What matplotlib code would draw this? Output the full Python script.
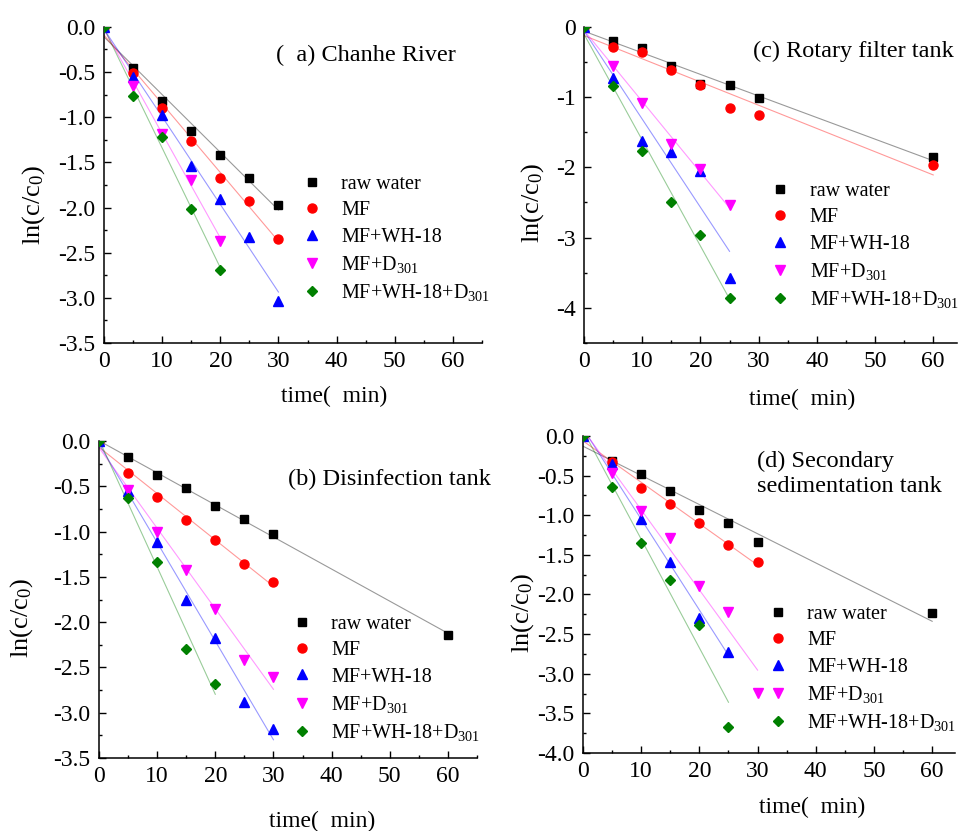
import numpy as np
import matplotlib
matplotlib.use("Agg")
import matplotlib.pyplot as plt
from matplotlib.ticker import MultipleLocator

plt.rcParams['font.family'] = ['Liberation Serif', 'Noto Sans CJK SC']
plt.rcParams['mathtext.fontset'] = 'custom'
plt.rcParams['mathtext.rm'] = 'Liberation Serif'
plt.rcParams['mathtext.it'] = 'Liberation Serif:italic'
plt.rcParams['axes.unicode_minus'] = False

# sampling times (min)
t20 = [0, 5, 10, 15, 20]
t25 = [0, 5, 10, 15, 20, 25]
t30 = [0, 5, 10, 15, 20, 25, 30]
t60 = [0, 5, 10, 15, 20, 25, 30, 60]

# (a) Chanhe River
a_raw = [0, -0.45, -0.82, -1.15, -1.42, -1.67, -1.97]
a_mf = [0, -0.51, -0.90, -1.26, -1.67, -1.93, -2.35]
a_wh = [0, -0.56, -0.98, -1.54, -1.91, -2.33, -3.04]
a_d301 = [0, -0.65, -1.19, -1.69, -2.37]
a_both = [0, -0.77, -1.22, -2.02, -2.69]

# (b) Disinfection tank
b_raw = [0, -0.18, -0.37, -0.52, -0.72, -0.86, -1.03, -2.14]
b_mf = [0, -0.35, -0.62, -0.87, -1.09, -1.36, -1.56]
b_wh = [0, -0.55, -1.12, -1.75, -2.17, -2.88, -3.18]
b_d301 = [0, -0.54, -1.00, -1.42, -1.86, -2.42, -2.61]
b_both = [0, -0.63, -1.34, -2.30, -2.68]

# (c) Rotary filter tank
c_raw = [0, -0.20, -0.30, -0.56, -0.81, -0.83, -1.01, -1.85]
c_mf = [0, -0.28, -0.36, -0.61, -0.83, -1.15, -1.25, -1.96]
c_wh = [0, -0.73, -1.63, -1.78, -2.05, -3.57]
c_d301 = [0, -0.56, -1.08, -1.67, -2.03, -2.54]
c_both = [0, -0.84, -1.77, -2.50, -2.96, -3.86]

# (d) Secondary sedimentation tank
d_raw = [0, -0.32, -0.48, -0.69, -0.94, -1.10, -1.34, -2.24]
d_mf = [0, -0.33, -0.66, -0.86, -1.10, -1.38, -1.59]
d_wh = [0, -0.35, -1.05, -1.59, -2.30, -2.73]
d_d301 = [0, -0.47, -0.95, -1.29, -1.89, -2.22, -3.24]
d_both = [0, -0.65, -1.35, -1.82, -2.38, -3.67]

labels = ['raw water', 'MF', 'MF+WH-18', r'MF+D$_{\mathregular{301}}$',
          r'MF+WH-18+D$_{\mathregular{301}}$']
markers = ['s', 'o', '^', 'v', 'D']
colors = ['black', 'red', 'blue', 'magenta', 'green']
sizes = [6, 6.5, 7, 7, 5.5]


def panel(ax, series, title, xlim, ylim, ystep, yfmt, title_xy, leg_xy, xl_xy, yl_xy):
    for (t, y), lab, m, c, s in zip(series, labels, markers, colors, sizes):
        k, b = np.polyfit(t, y, 1)
        xx = np.array([0, t[-1]])
        ax.plot(xx, k * xx + b, color=c, alpha=0.4, lw=0.8)
        ax.plot(t, y, m, color=c, ms=s, label=lab, zorder=3)
    ax.set_xlim(*xlim)
    ax.set_ylim(*ylim)
    ax.xaxis.set_major_locator(MultipleLocator(10))
    ax.xaxis.set_minor_locator(MultipleLocator(5))
    ax.yaxis.set_major_locator(MultipleLocator(ystep))
    ax.yaxis.set_minor_locator(MultipleLocator(ystep / 2))
    ax.yaxis.set_major_formatter(yfmt)
    ax.spines['top'].set_visible(False)
    ax.spines['right'].set_visible(False)
    for sp in ['left', 'bottom']:
        ax.spines[sp].set_linewidth(1.1)
    ax.tick_params(which='major', direction='in', length=5, width=1.0,
                   labelsize=17, pad=6)
    ax.tick_params(which='minor', direction='in', length=2.5, width=1.0)
    ax.text(title_xy[0], title_xy[1], title, transform=ax.transAxes,
            fontsize=17.5, ha='left', va='center', linespacing=1.25)
    ax.legend(loc='upper left', bbox_to_anchor=leg_xy, frameon=False,
              fontsize=14.5, handlelength=1.0, handletextpad=0.95,
              labelspacing=0.36, borderpad=0, borderaxespad=0)
    ax.set_xlabel('time(  min)', fontsize=17)
    ax.xaxis.label.set_va('center')
    ax.xaxis.set_label_coords(*xl_xy)
    ax.set_ylabel(r'ln(c/c$_\mathregular{0}$)', fontsize=19)
    ax.yaxis.label.set_va('center')
    ax.yaxis.set_label_coords(*yl_xy)


fig = plt.figure(figsize=(9.59, 8.31), dpi=100)
ax_a = fig.add_axes([0.1084, 0.5873, 0.3942, 0.3803])
ax_c = fig.add_axes([0.6090, 0.5873, 0.3884, 0.3803])
ax_b = fig.add_axes([0.1032, 0.0878, 0.3942, 0.3815])
ax_d = fig.add_axes([0.6079, 0.0939, 0.3884, 0.3815])

panel(ax_a, [(t30, a_raw), (t30, a_mf), (t30, a_wh), (t20, a_d301), (t20, a_both)],
      '(  a) Chanhe River', (0, 65), (-3.5, 0), 0.5, '{x:.1f}',
      (0.455, 0.911), (0.524, 0.532), (0.608, -0.168), (-0.185, 0.437))
panel(ax_c, [(t60, c_raw), (t60, c_mf), (t25, c_wh), (t25, c_d301), (t25, c_both)],
      '(c) Rotary filter tank', (0, 64), (-4.5, 0), 1, '{x:.0f}',
      (0.454, 0.921), (0.500, 0.510), (0.585, -0.18), (-0.137, 0.443))
panel(ax_b, [(t60, b_raw), (t30, b_mf), (t30, b_wh), (t30, b_d301), (t20, b_both)],
      '(b) Disinfection tank', (0, 65), (-3.5, 0), 0.5, '{x:.1f}',
      (0.5, 0.880), (0.511, 0.452), (0.59, -0.20), (-0.204, 0.44))
panel(ax_d, [(t60, d_raw), (t30, d_mf), (t25, d_wh), (t30, d_d301), (t25, d_both)],
      '(d) Secondary\nsedimentation tank', (0, 64), (-4.0, 0), 0.5, '{x:.1f}',
      (0.467, 0.880), (0.497, 0.467), (0.615, -0.173), (-0.161, 0.44))

fig.savefig('out.png', dpi=100)
